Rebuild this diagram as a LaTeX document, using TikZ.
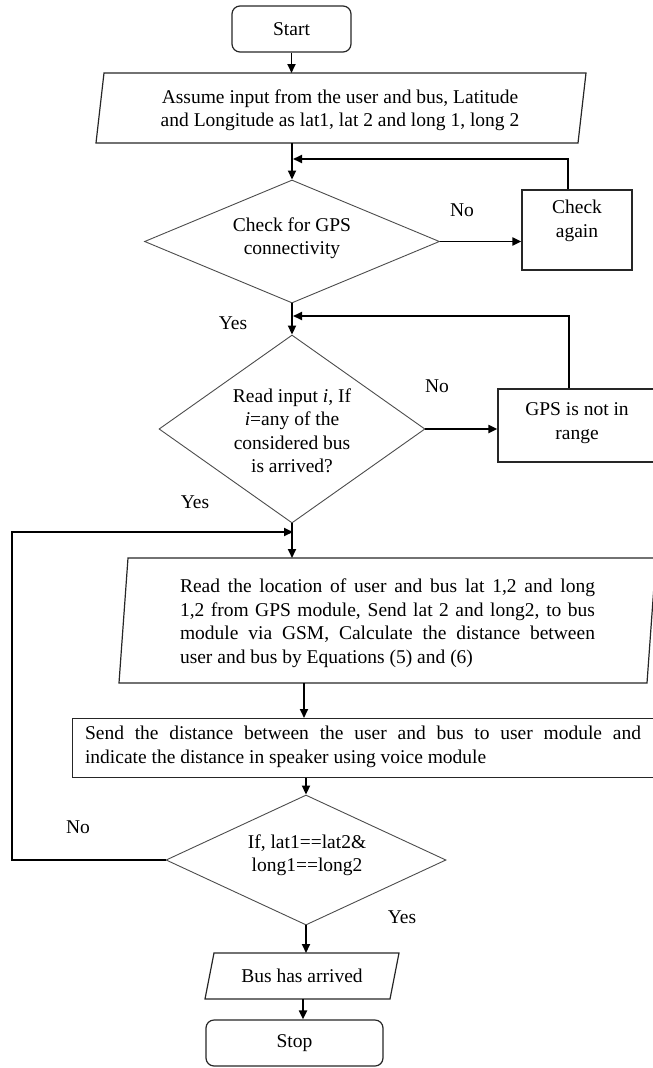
\documentclass[tikz,border=0pt]{standalone}
\usepackage{fontspec}
\setmainfont{Liberation Serif}
\usetikzlibrary{arrows.meta,shapes.geometric}
\begin{document}
\begin{tikzpicture}[x=1pt,y=-1pt,
  font=\fontsize{19.5}{23.5}\selectfont,
  conn/.style={line width=1.9pt,-{Triangle[length=9pt,width=8pt]}},
  shapeline/.style={draw=black!85,line width=1.2pt},
  box/.style={shapeline,rectangle,inner sep=0pt},
  term/.style={box,rounded corners=8pt},
  dec/.style={draw=black!70,line width=0.9pt,diamond,inner sep=0pt},
  txt/.style={align=center,inner sep=0pt},
  jtxt/.style={align=justify,inner sep=0pt},
  lab/.style={inner sep=0pt}]
\useasboundingbox (0,0) rectangle (653,1068);

% Start
\node[term,minimum width=119pt,minimum height=46pt] (start) at (291.5,29) {Start};

% Input parallelogram
\draw[shapeline] (104,73) -- (586,73) -- (578,143) -- (96,143) -- cycle;
\coordinate (in-n) at (291.5,73);
\coordinate (in-s) at (292,143);
\node[txt] (intxt) at (340,110) {Assume input from the user and bus, Latitude\\and Longitude as lat1, lat 2 and long 1, long 2};

% Decision 1
\node[dec,minimum width=295pt,minimum height=123pt] (d1) at (292,241.5) {};
\node[txt] (d1txt) at (292,238) {Check for GPS\\connectivity};

% Check again
\node[box,minimum width=110pt,minimum height=80pt] (chk) at (577,230) {};
\node[txt] (chktxt) at (577,221) {Check\\again};

% Decision 2
\node[dec,minimum width=266pt,minimum height=188pt] (d2) at (292,429) {};
\node[txt] (d2txt) at (292,431) {Read input \textit{i}, If\\\textit{i}=any of the\\considered bus\\is arrived?};

% GPS not in range
\node[box,minimum width=158pt,minimum height=73pt] (gps) at (577,425.5) {};
\node[txt] (gpstxt) at (577,423) {GPS is not in\\range};

% Process parallelogram
\draw[shapeline] (128,558) -- (656,558) -- (647,683) -- (119,683) -- cycle;
\coordinate (pr-n) at (292,558);
\coordinate (pr-s) at (304,683);
\node[jtxt,text width=415pt] (prtxt) at (387.5,623) {Read the location of user and bus lat 1,2 and long\linebreak 1,2 from GPS module, Send lat 2 and long2, to bus\linebreak module via GSM, Calculate the distance between\linebreak user and bus by Equations (5) and (6)};

% Send box
\node[box,minimum width=590pt,minimum height=59pt,anchor=north west] (send) at (72,718) {};
\node[jtxt,text width=556pt] (sendtxt) at (363,747) {Send the distance between the user and bus to user module and\linebreak indicate the distance in speaker using voice module};

% Decision 3
\node[dec,minimum width=280pt,minimum height=130pt] (d3) at (306,860) {};
\node[txt] (d3txt) at (307,855) {If, lat1==lat2\&\\long1==long2};

% Bus has arrived
\draw[shapeline] (214,953) -- (399,953) -- (390,999) -- (205,999) -- cycle;
\coordinate (bus-n) at (306,953);
\coordinate (bus-s) at (303,999);
\node[txt] (bustxt) at (302,976) {Bus has arrived};

% Stop
\node[term,minimum width=177pt,minimum height=46pt] (stop) at (294.5,1043) {Stop};

% helper coordinates
\coordinate (fb1) at (293,159);
\coordinate (fb2) at (293,316);
\coordinate (lp) at (12,860);
\coordinate (lpin) at (293,532);

% connectors
\draw[conn] (start.south) -- (in-n);
\draw[conn] (in-s) -- (d1.north);
\draw[conn] (d1.east) -- (d1.east -| chk.west);
\draw[conn] ([xshift=-9pt]chk.north) |- (fb1);
\draw[conn] (d1.south) -- (d2.north);
\draw[conn] (d2.east) -- (d2.east -| gps.west);
\draw[conn] ([xshift=-8pt]gps.north) |- (fb2);
\draw[conn] (d2.south) -- (pr-n);
\draw[conn] (pr-s) -- (pr-s |- send.north);
\draw[conn] (send.south -| d3.north) -- (d3.north);
\draw[conn] (d3.west) -- (lp) |- (lpin);
\draw[conn] (d3.south) -- (d3.south |- bus-n);
\draw[conn] (bus-s) -- (bus-s |- stop.north);

% labels
\node[lab] (no1) at (462,210) {No};
\node[lab] (yes1) at (233,323) {Yes};
\node[lab] (no2) at (437,386) {No};
\node[lab] (yes2) at (195,502) {Yes};
\node[lab] (no3) at (78,827) {No};
\node[lab] (yes3) at (402,917) {Yes};
\end{tikzpicture}
\end{document}
